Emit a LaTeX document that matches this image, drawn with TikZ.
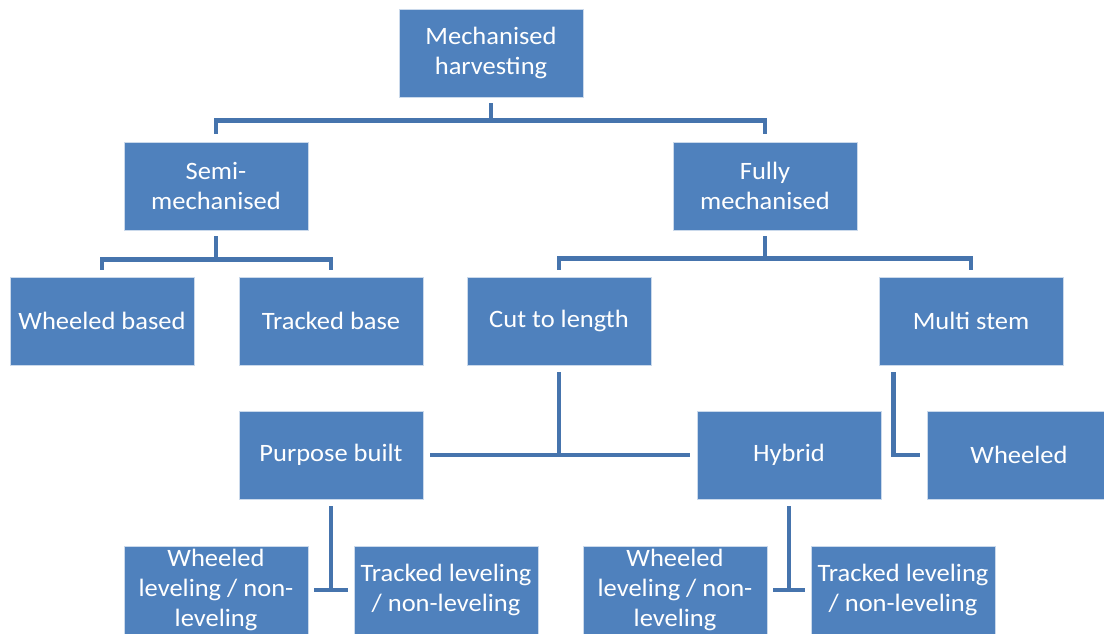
\documentclass[tikz,border=0pt]{standalone}
\usepackage{fontspec}
\setmainfont{Carlito}[FakeStretch=1.06]
\definecolor{boxblue}{HTML}{4F81BD}
\definecolor{lineblue}{HTML}{4674AD}
\tikzset{
  box/.style={rectangle, fill=boxblue, draw=white!70!boxblue, line width=0.8pt,
    minimum width=184pt, minimum height=88pt, inner sep=0pt,
    text=white, align=center, font=\fontsize{25}{30}\selectfont},
  link/.style={draw=lineblue, line width=4.5pt}
}
\begin{document}
\begin{tikzpicture}[x=1pt,y=-1pt]
		\useasboundingbox (0,0) rectangle (1104,634);
		% top levels
		\node[box] (root) at (491,53) {Mechanised\\harvesting};
		\node[box] (semi) at (216,186) {Semi-\\mechanised};
		\node[box] (fully) at (765,186) {Fully\\mechanised};
		% third row
		\node[box] (wbased) at (102,321) {Wheeled based};
		\node[box] (tbase) at (331,321) {Tracked base};
		\node[box] (cut) at (559,321) {Cut to length};
		\node[box] (multi) at (971,321) {Multi stem};
		% fourth row
		\node[box] (purpose) at (331,455) {Purpose built};
		\node[box] (hybrid) at (789,455) {Hybrid};
		\node[box] (wheeled) at (1019,455) {Wheeled};
		% bottom row
		\node[box] (pwheel) at (216,590) {Wheeled\\leveling / non-\\leveling};
		\node[box] (ptrack) at (446,590) {Tracked leveling\\/ non-leveling};
		\node[box] (hwheel) at (675,590) {Wheeled\\leveling / non-\\leveling};
		\node[box] (htrack) at (903,590) {Tracked leveling\\/ non-leveling};
		% connectors
		\draw[link] ([yshift=-6pt]root.south) -- ([yshift=-23pt]root.south);
		\draw[link] ([yshift=8pt]semi.north) |- ([yshift=-23pt]root.south) -| ([yshift=8pt]fully.north);
		\draw[link] ([yshift=-6pt]semi.south) -- ([yshift=-29pt]semi.south);
		\draw[link] ([yshift=7pt]wbased.north) |- ([yshift=-29pt]semi.south) -| ([yshift=7pt]tbase.north);
		\draw[link] ([yshift=-6pt]fully.south) -- ([yshift=-28pt]fully.south);
		\draw[link] ([yshift=7pt]cut.north) |- ([yshift=-28pt]fully.south) -| ([yshift=7pt]multi.north);
		\draw[link] ([xshift=7pt]purpose.east) -- ([xshift=-7pt]hybrid.west);
		\draw[link] ([yshift=-7pt]cut.south) -- (cut.south |- purpose.east);
		\draw[link] ([xshift=15pt,yshift=-7pt]multi.south west) |- ([xshift=-7pt]wheeled.west);
		\draw[link] ([yshift=-7pt]purpose.south) -- (purpose.south |- pwheel.east);
		\draw[link] ([xshift=6pt]pwheel.east) -- ([xshift=-6pt]ptrack.west);
		\draw[link] ([yshift=-7pt]hybrid.south) -- (hybrid.south |- hwheel.east);
		\draw[link] ([xshift=6pt]hwheel.east) -- ([xshift=-6pt]htrack.west);
	\end{tikzpicture}
\end{document}
